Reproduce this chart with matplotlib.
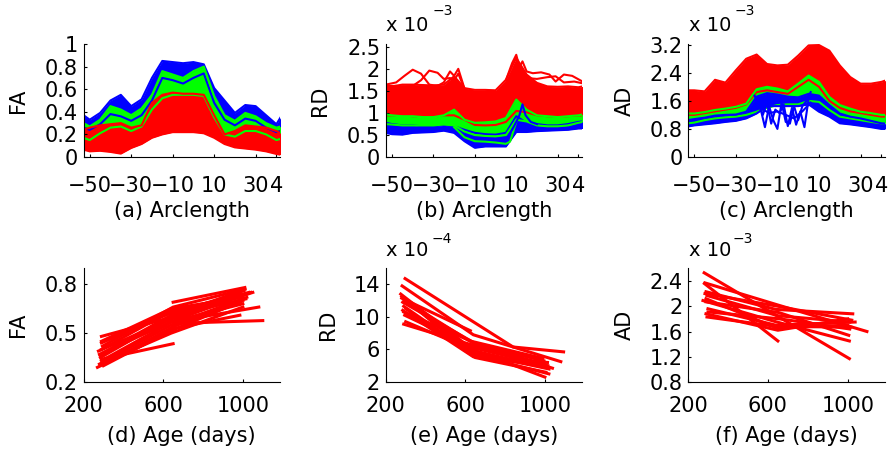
import matplotlib
matplotlib.use("Agg")
import matplotlib.pyplot as plt

plt.rcParams['font.family'] = ['DejaVu Sans']

# ---------------- top row: curves along arclength ----------------
ARC = [-53, -50, -45, -40, -35, -30, -25, -20, -15, -10, -5, 0, 5, 10, 15, 20, 25, 30, 35, 40, 42]

# (a) FA
A_RED_TOP = [0.24, 0.26, 0.28, 0.29, 0.30, 0.26, 0.28, 0.48, 0.55, 0.57, 0.56, 0.56, 0.55, 0.37, 0.20, 0.23, 0.28, 0.27, 0.26, 0.23, 0.21]
A_RED_BOT = [0.065, 0.05, 0.055, 0.045, 0.03, 0.08, 0.115, 0.17, 0.20, 0.22, 0.22, 0.22, 0.21, 0.17, 0.115, 0.085, 0.075, 0.065, 0.05, 0.027, 0.02]
A_GREEN_TOP = [0.30, 0.27, 0.33, 0.45, 0.42, 0.37, 0.43, 0.55, 0.76, 0.73, 0.70, 0.76, 0.80, 0.54, 0.37, 0.32, 0.39, 0.36, 0.30, 0.26, 0.27]
A_GREEN_BOT = [0.17, 0.15, 0.21, 0.26, 0.27, 0.23, 0.27, 0.42, 0.52, 0.55, 0.55, 0.55, 0.54, 0.35, 0.20, 0.18, 0.23, 0.23, 0.20, 0.15, 0.16]
A_BLUE_TOP = [0.37, 0.33, 0.39, 0.50, 0.55, 0.45, 0.51, 0.70, 0.85, 0.84, 0.83, 0.84, 0.82, 0.61, 0.50, 0.39, 0.46, 0.45, 0.37, 0.29, 0.35]
A_BLUE_BOT = [0.26, 0.24, 0.29, 0.38, 0.36, 0.32, 0.37, 0.50, 0.70, 0.68, 0.65, 0.70, 0.74, 0.48, 0.33, 0.28, 0.34, 0.32, 0.26, 0.22, 0.23]

# (b) RD (x 1e-3)
B_RED_TOP = [1.63, 1.61, 1.65, 1.65, 1.64, 1.63, 1.65, 1.84, 1.57, 1.53, 1.53, 1.52, 1.76, 2.26, 1.88, 1.69, 1.61, 1.60, 1.61, 1.59, 1.61]
B_RED_BOT = [0.95, 0.95, 0.95, 0.93, 0.93, 0.92, 0.95, 0.95, 0.85, 0.73, 0.72, 0.73, 0.80, 1.05, 1.02, 0.95, 0.93, 0.92, 0.93, 0.95, 0.95]
B_GREEN_TOP = [0.97, 0.95, 0.93, 0.93, 0.91, 0.91, 0.95, 1.08, 0.85, 0.78, 0.79, 0.81, 0.89, 1.31, 1.08, 0.95, 0.93, 0.91, 0.93, 0.95, 0.97]
B_GREEN_BOT = [0.75, 0.74, 0.72, 0.72, 0.72, 0.72, 0.74, 0.72, 0.58, 0.50, 0.48, 0.47, 0.50, 0.85, 0.81, 0.72, 0.70, 0.70, 0.72, 0.78, 0.80]
B_BLUE_TOP = [0.78, 0.75, 0.72, 0.72, 0.70, 0.70, 0.72, 0.70, 0.62, 0.55, 0.52, 0.51, 0.55, 0.93, 0.78, 0.75, 0.72, 0.72, 0.75, 0.80, 0.81]
B_BLUE_BOT = [0.55, 0.52, 0.51, 0.55, 0.56, 0.57, 0.60, 0.55, 0.36, 0.21, 0.24, 0.24, 0.24, 0.57, 0.57, 0.59, 0.60, 0.61, 0.62, 0.65, 0.65]
B_HUMP_X1 = [-53, -48, -44, -40, -36, -32, -28, -25, -22, -20, -18, -15]
B_HUMP_Y1 = [1.65, 1.70, 1.85, 1.99, 1.90, 1.65, 1.62, 1.70, 1.95, 1.85, 2.01, 1.56]
B_HUMP_Y2 = [1.62, 1.62, 1.60, 1.62, 1.75, 1.97, 1.92, 1.78, 1.80, 1.75, 1.90, 1.55]
B_HUMP_X3 = [5, 8, 10, 11.5, 13, 15, 18, 22, 26, 29, 33, 37, 42]
B_HUMP_Y3 = [1.75, 2.14, 2.33, 2.05, 2.18, 1.95, 1.91, 1.93, 1.88, 1.72, 1.88, 1.85, 1.72]
B_HUMP_X4 = [15, 20, 25, 29, 33, 38, 42]
B_HUMP_Y4 = [1.80, 1.78, 1.82, 1.84, 1.70, 1.72, 1.68]
B_GREEN_LINE_X = [-20, -15, -10, -5, 0, 5, 7, 10]
B_GREEN_LINE_Y = [0.68, 0.45, 0.36, 0.35, 0.33, 0.30, 0.35, 0.80]
B_BLUE_SPIKE_X = [8, 10, 11.5, 13, 14.5, 17, 20]
B_BLUE_SPIKE_Y = [0.62, 0.80, 0.95, 1.20, 0.95, 0.80, 0.75]

# (c) AD (x 1e-3)
C_RED_TOP = [1.90, 1.90, 1.87, 2.20, 2.12, 2.47, 2.80, 2.92, 2.65, 2.61, 2.63, 2.89, 3.18, 3.19, 3.03, 2.61, 2.28, 2.09, 2.09, 2.14, 2.18]
C_RED_BOT = [1.20, 1.20, 1.25, 1.30, 1.35, 1.40, 1.50, 1.85, 1.90, 1.85, 1.80, 2.00, 2.20, 2.00, 1.60, 1.40, 1.30, 1.25, 1.20, 1.15, 1.15]
C_GREEN_TOP = [1.24, 1.24, 1.28, 1.34, 1.38, 1.43, 1.52, 1.93, 2.00, 1.95, 1.87, 2.09, 2.32, 2.14, 1.71, 1.48, 1.38, 1.29, 1.25, 1.20, 1.20]
C_GREEN_BOT = [0.96, 0.98, 1.05, 1.10, 1.13, 1.15, 1.20, 1.29, 1.40, 1.48, 1.50, 1.50, 1.60, 1.57, 1.34, 1.15, 1.10, 1.05, 1.00, 0.96, 0.96]
C_BLUE_TOP = [1.05, 1.08, 1.12, 1.18, 1.20, 1.21, 1.29, 1.72, 1.82, 1.78, 1.72, 1.70, 1.80, 1.75, 1.48, 1.24, 1.15, 1.10, 1.03, 0.96, 0.95]
C_BLUE_BOT = [0.87, 0.90, 0.93, 0.96, 1.00, 1.03, 1.10, 1.24, 1.45, 1.45, 1.45, 1.45, 1.50, 1.29, 1.15, 0.96, 0.93, 0.89, 0.85, 0.80, 0.80]
C_ZIG_X1 = [-21, -18, -16, -14, -12, -10, -8, -6, -4, -2, 0, 2, 4, 6]
C_ZIG_Y1 = [1.75, 1.35, 0.85, 1.45, 1.05, 0.80, 1.55, 1.00, 0.95, 1.45, 1.05, 1.45, 1.60, 1.85]
C_ZIG_X2 = [-20, -17, -15, -13, -11, -9, -7, -5, -3, -1, 1, 3, 5, 7]
C_ZIG_Y2 = [1.70, 1.20, 1.55, 0.95, 1.35, 1.25, 1.50, 0.88, 1.40, 0.92, 1.30, 0.85, 1.65, 1.75]
C_ZIG_X3 = [-18, -14, -10, -6, -2, 2, 6]
C_ZIG_Y3 = [1.40, 1.25, 1.30, 1.20, 1.10, 1.30, 1.55]

# ---------------- bottom row: longitudinal subjects ----------------
D_AGES = [[290, 650, 1010], [650, 1010], [290, 650], [650, 1100], [650, 1080],
          [270, 650, 1000], [280, 640, 1020], [290, 660, 1040], [285, 650, 990],
          [300, 655, 1005], [290, 645, 995], [295, 650, 1010], [280, 640, 1000],
          [300, 660, 985], [290, 650, 1030], [300, 640, 1000], [275, 650, 1050],
          [285, 655, 1015], [305, 650, 990], [290, 640, 1000]]
D_FA = [[0.48, 0.60, 0.77], [0.69, 0.78], [0.34, 0.435], [0.56, 0.577], [0.57, 0.66],
        [0.29, 0.52, 0.70], [0.31, 0.55, 0.72], [0.33, 0.58, 0.75], [0.36, 0.60, 0.74],
        [0.38, 0.62, 0.76], [0.40, 0.64, 0.73], [0.42, 0.66, 0.77], [0.37, 0.57, 0.68],
        [0.30, 0.53, 0.61], [0.44, 0.63, 0.75], [0.32, 0.50, 0.66], [0.39, 0.59, 0.75],
        [0.35, 0.61, 0.71], [0.31, 0.54, 0.69], [0.45, 0.65, 0.72]]

E_AGES = [[297, 840, 1094], [282, 640, 1080], [275, 635, 1000], [280, 640, 1013],
          [290, 650, 1021], [285, 645, 1038], [300, 650, 1005], [290, 630, 990],
          [295, 640, 1010], [290, 640, 1000], [300, 650, 1000], [280, 625],
          [290, 640, 1020], [295, 650, 995], [285, 640, 1015]]
E_RD = [[14.7, 6.3, 5.7], [13.8, 7.8, 4.5], [12.8, 6.0, 2.6], [12.5, 5.2, 4.4],
        [12.2, 5.5, 3.6], [11.8, 6.8, 3.7], [11.0, 5.0, 3.2], [10.6, 7.0, 4.9],
        [10.2, 6.2, 4.0], [9.1, 6.5, 4.2], [9.4, 5.8, 3.8], [12.3, 8.3],
        [11.3, 5.4, 3.0], [12.0, 6.6, 4.6], [10.8, 5.1, 4.0]]

F_AGES = [[281, 1008], [282, 650], [285, 650, 1096], [290, 640, 1025], [295, 650, 1010],
          [275, 645, 1008], [290, 655, 1005], [300, 640, 1037], [290, 650, 1000],
          [295, 645, 1015], [300, 660, 1010], [285, 650, 1020], [290, 640, 1000]]
F_AD = [[2.53, 1.17], [2.36, 1.45], [2.37, 2.02, 1.60], [2.23, 1.95, 1.88], [2.17, 1.85, 1.75],
        [2.09, 1.75, 1.45], [2.07, 1.90, 1.54], [1.96, 1.70, 1.75], [1.88, 1.62, 1.80],
        [1.83, 1.68, 1.67], [1.91, 1.80, 1.64], [2.20, 2.00, 1.78], [2.12, 1.66, 1.70]]

ARC_TICKS = [-50, -30, -10, 10, 30, 40]
ARC_LABELS = ['\u221250', '\u221230', '\u221210', '10', '30', '4']
AGE_TICKS = [200, 600, 1000]
AGE_LABELS = ['200', '600', '1000']

RED, GREEN, BLUE = '#ff0000', '#00ff00', '#0000ff'
FS = 15

fig = plt.figure(figsize=(8.9, 4.54), dpi=100)

W, H = 890.0, 454.0
lefts = [83.5, 385.8, 688.0]
widths = [196.2, 195.9, 196.7]


def make_ax(col, top_px, bot_px):
    return fig.add_axes([lefts[col] / W, 1 - bot_px / H, widths[col] / W, (bot_px - top_px) / H])


def style(ax, xpad):
    for s in ['top', 'right']:
        ax.spines[s].set_visible(False)
    for s in ['left', 'bottom']:
        ax.spines[s].set_linewidth(0.8)
    ax.tick_params(direction='in', length=2.5, width=0.8, labelsize=FS)
    ax.tick_params(axis='x', pad=xpad)
    ax.tick_params(axis='y', pad=4)


def band(ax, bot, top, color):
    ax.fill_between(ARC, bot, top, color=color, lw=0)
    ax.plot(ARC, top, color=color, lw=1.5)
    ax.plot(ARC, bot, color=color, lw=1.5)


top_axes = [make_ax(i, 44, 157) for i in range(3)]
bot_axes = [make_ax(i, 268, 382) for i in range(3)]

# (a)
ax = top_axes[0]
band(ax, A_BLUE_BOT, A_BLUE_TOP, BLUE)
band(ax, A_GREEN_BOT, A_GREEN_TOP, GREEN)
band(ax, A_RED_BOT, A_RED_TOP, RED)
ax.set_ylim(0, 1.0)
ax.set_yticks([0, 0.2, 0.4, 0.6, 0.8, 1.0], ['0', '0.2', '0.4', '0.6', '0.8', '1'])

# (b)
ax = top_axes[1]
band(ax, B_RED_BOT, B_RED_TOP, RED)
for hx, hy in [(B_HUMP_X1, B_HUMP_Y1), (B_HUMP_X1, B_HUMP_Y2), (B_HUMP_X3, B_HUMP_Y3), (B_HUMP_X4, B_HUMP_Y4)]:
    ax.plot(hx, hy, color=RED, lw=1.5)
band(ax, B_BLUE_BOT, B_BLUE_TOP, BLUE)
band(ax, B_GREEN_BOT, B_GREEN_TOP, GREEN)
ax.plot(B_GREEN_LINE_X, B_GREEN_LINE_Y, color=GREEN, lw=1.5)
ax.plot(B_BLUE_SPIKE_X, B_BLUE_SPIKE_Y, color=BLUE, lw=1.5)
ax.set_ylim(0, 2.576)
ax.set_yticks([0, 0.5, 1.0, 1.5, 2.0, 2.5], ['0', '0.5', '1', '1.5', '2', '2.5'])

# (c)
ax = top_axes[2]
band(ax, C_RED_BOT, C_RED_TOP, RED)
band(ax, C_GREEN_BOT, C_GREEN_TOP, GREEN)
band(ax, C_BLUE_BOT, C_BLUE_TOP, BLUE)
for zx, zy in [(C_ZIG_X1, C_ZIG_Y1), (C_ZIG_X2, C_ZIG_Y2), (C_ZIG_X3, C_ZIG_Y3)]:
    ax.plot(zx, zy, color=BLUE, lw=1.5)
ax.set_ylim(0, 3.22)
ax.set_yticks([0, 0.8, 1.6, 2.4, 3.2], ['0', '0.8', '1.6', '2.4', '3.2'])

top_labels = ['(a) Arclength', '(b) Arclength', '(c) Arclength']
ylabels = ['FA', 'RD', 'AD']
ylab_top_x = [-0.283, -0.285, -0.269]
for i, ax in enumerate(top_axes):
    style(ax, 13.5)
    ax.set_xlim(-53, 41.6)
    ax.set_xticks(ARC_TICKS, ARC_LABELS)
    ax.set_xlabel(top_labels[i], fontsize=FS)
    ax.xaxis.set_label_coords(0.5, -0.39)
    ax.set_ylabel(ylabels[i], fontsize=FS)
    ax.yaxis.set_label_coords(ylab_top_x[i], 0.5)

# (d)
ax = bot_axes[0]
for ages, vals in zip(D_AGES, D_FA):
    ax.plot(ages, vals, color=RED, lw=2.2)
ax.set_ylim(0.2, 0.9)
ax.set_yticks([0.2, 0.5, 0.8], ['0.2', '0.5', '0.8'])

# (e)
ax = bot_axes[1]
for ages, vals in zip(E_AGES, E_RD):
    ax.plot(ages, vals, color=RED, lw=2.2)
ax.set_ylim(2, 16)
ax.set_yticks([2, 6, 10, 14], ['2', '6', '10', '14'])

# (f)
ax = bot_axes[2]
for ages, vals in zip(F_AGES, F_AD):
    ax.plot(ages, vals, color=RED, lw=2.2)
ax.set_ylim(0.8, 2.606)
ax.set_yticks([0.8, 1.2, 1.6, 2.0, 2.4], ['0.8', '1.2', '1.6', '2', '2.4'])

bot_labels = ['(d) Age (days)', '(e) Age (days)', '(f) Age (days)']
ylab_bot_x = [-0.283, -0.244, -0.269]
for i, ax in enumerate(bot_axes):
    style(ax, 10)
    ax.set_xlim(200, 1185)
    ax.set_xticks(AGE_TICKS, AGE_LABELS)
    ax.set_xlabel(bot_labels[i], fontsize=FS)
    ax.xaxis.set_label_coords(0.5, -0.39)
    ax.set_ylabel(ylabels[i], fontsize=FS)
    ax.yaxis.set_label_coords(ylab_bot_x[i], 0.5)

# scale multipliers
MULTS = [(386, 30.7, 433, 15, '\u22123'), (689, 30.7, 735, 15, '\u22123'),
         (386, 256, 432, 243, '\u22124'), (689, 256, 733, 243, '\u22123')]
for bx, by, ex, ey, exp in MULTS:
    fig.text(bx / W, 1 - by / H, 'x 10', fontsize=14, va='baseline', ha='left')
    fig.text(ex / W, 1 - ey / H, exp, fontsize=10, va='baseline', ha='left')

fig.savefig('out.png', dpi=100)
